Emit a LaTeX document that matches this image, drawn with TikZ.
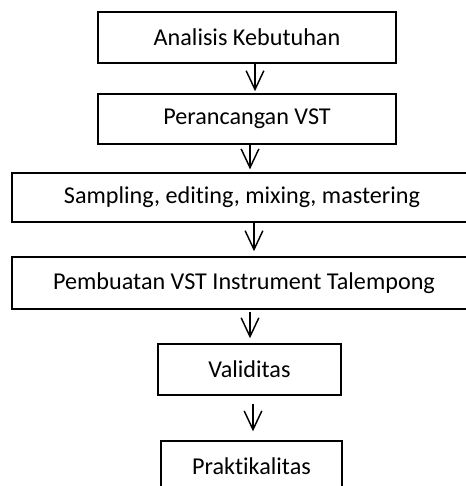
\documentclass[tikz,border=0pt]{standalone}
\usepackage{fontspec}
\setmainfont{Carlito}[Ligatures=NoCommon]
\usetikzlibrary{arrows.meta,positioning}

\begin{document}
\begin{tikzpicture}[x=0.48pt,y=-0.48pt,
    stage/.style={draw, line width=0.7pt, inner sep=0pt, font=\fontsize{11.6}{14}\selectfont},
    flow/.style={line width=0.7pt, -{Straight Barb[length=9pt,width=8.5pt,line width=0.7pt]}}]
    \useasboundingbox (0,0) rectangle (466,486);
    \clip (0,0) rectangle (466,486);

    \node[stage, minimum width=143pt, minimum height=24.5pt] (kebutuhan) at (247,37.5) {Analisis Kebutuhan};
    \node[stage, minimum width=143pt, minimum height=24pt] (rancangan) at (247,119) {Perancangan VST};
    \node[stage, minimum width=220.8pt, minimum height=23.5pt] (sampling) at (242,197.5) {Sampling, editing, mixing, mastering};
    \node[stage, minimum width=222.7pt, minimum height=25pt] (pembuatan) at (244,283) {Pembuatan VST Instrument Talempong};
    \node[stage, minimum width=87.8pt, minimum height=24.5pt] (validitas) at (249.5,369.5) {Validitas};
    \node[stage, minimum width=86.9pt, minimum height=24.5pt] (praktikalitas) at (251.5,466.5) {Praktikalitas};

    \coordinate (s1) at ([xshift=3.84pt]kebutuhan.south);
    \coordinate (s2) at ([xshift=1.44pt]rancangan.south);
    \coordinate (s3) at ([xshift=5.76pt]sampling.south);
    \coordinate (s4) at ([xshift=2.88pt]pembuatan.south);
    \coordinate (s5) at ([xshift=1.68pt]validitas.south);

    \draw[flow, shorten >=1pt] (s1) -- (s1 |- rancangan.north);
    \draw[flow, shorten >=1.4pt] (s2) -- (s2 |- sampling.north);
    \draw[flow, shorten >=2.4pt] (s3) -- (s3 |- pembuatan.north);
    \draw[flow, shorten <=1pt, shorten >=2.4pt] (s4) -- (s4 |- validitas.north);
    \draw[flow, shorten <=3.8pt, shorten >=4.3pt] (s5) -- (s5 |- praktikalitas.north);
\end{tikzpicture}
\end{document}
